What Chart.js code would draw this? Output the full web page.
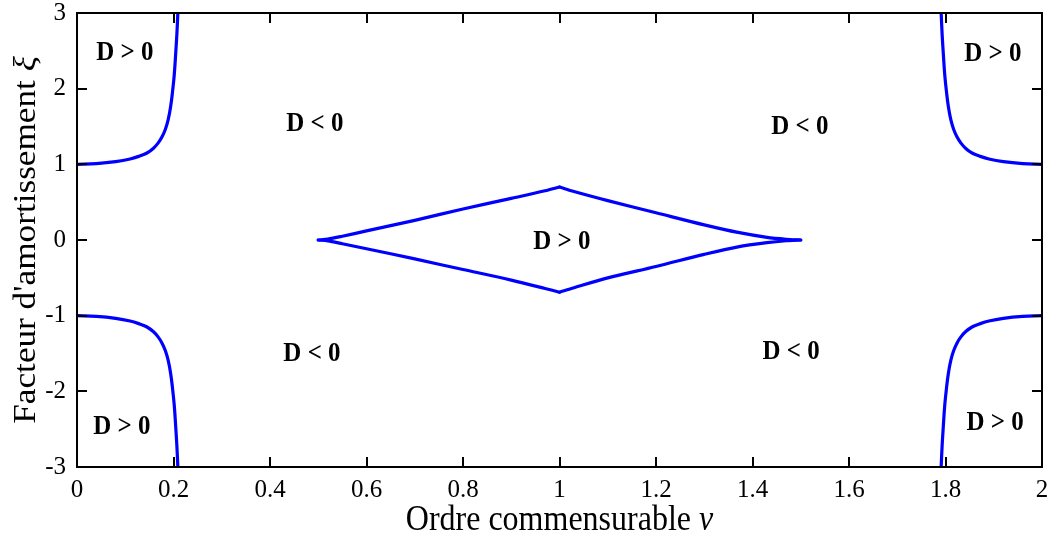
<!DOCTYPE html>
<html>
<head>
<meta charset="utf-8">
<script src="https://cdn.jsdelivr.net/npm/chart.js@4.4.1/dist/chart.umd.min.js"></script>
<style>
  html, body { margin: 0; padding: 0; background: #ffffff; }
  #wrap { width: 1048px; height: 541px; position: relative; }
</style>
</head>
<body>
<div id="wrap"><canvas id="c"></canvas></div>
<script>
// ---- data ----
const xTickValues = [0, 0.2, 0.4, 0.6, 0.8, 1, 1.2, 1.4, 1.6, 1.8, 2];
const xTickLabels = ['0', '0.2', '0.4', '0.6', '0.8', '1', '1.2', '1.4', '1.6', '1.8', '2'];
const yTickValues = [-3, -2, -1, 0, 1, 2, 3];
const yTickLabels = ['-3', '-2', '-1', '0', '1', '2', '3'];

// top-left boundary curve
const tlV  = [0, 0.04, 0.08, 0.11, 0.13, 0.145, 0.158, 0.168, 0.176, 0.183, 0.189, 0.194, 0.198, 0.2015, 0.2045, 0.207, 0.209];
const tlXi = [1, 1.01, 1.035, 1.07, 1.11, 1.15, 1.21, 1.28, 1.36, 1.46, 1.59, 1.76, 1.96, 2.18, 2.46, 2.72, 3.0];
// bottom-left boundary curve
const blV  = [0, 0.04, 0.08, 0.11, 0.13, 0.145, 0.158, 0.168, 0.176, 0.183, 0.189, 0.194, 0.198, 0.2015, 0.2045, 0.207, 0.209];
const blXi = [-1, -1.01, -1.035, -1.07, -1.11, -1.15, -1.21, -1.28, -1.36, -1.46, -1.59, -1.76, -1.96, -2.18, -2.46, -2.72, -3.0];
// top-right boundary curve
const trV  = [1.791, 1.793, 1.7955, 1.7985, 1.802, 1.806, 1.811, 1.817, 1.824, 1.832, 1.842, 1.855, 1.87, 1.89, 1.92, 1.96, 2.0];
const trXi = [3.0, 2.72, 2.46, 2.18, 1.96, 1.76, 1.59, 1.46, 1.36, 1.28, 1.21, 1.15, 1.11, 1.07, 1.035, 1.01, 1.0];
// bottom-right boundary curve
const brV  = [1.791, 1.793, 1.7955, 1.7985, 1.802, 1.806, 1.811, 1.817, 1.824, 1.832, 1.842, 1.855, 1.87, 1.89, 1.92, 1.96, 2.0];
const brXi = [-3.0, -2.72, -2.46, -2.18, -1.96, -1.76, -1.59, -1.46, -1.36, -1.28, -1.21, -1.15, -1.11, -1.07, -1.035, -1.01, -1.0];
// central closed contour, four branches
const dmUpLeftV   = [0.5, 0.52, 0.55, 0.6, 0.7, 0.8, 0.9, 0.97, 1.0];
const dmUpLeftXi  = [0, 0.012, 0.05, 0.12, 0.26, 0.41, 0.55, 0.65, 0.70];
const dmUpRightV  = [1.0, 1.03, 1.1, 1.2, 1.3, 1.37, 1.43, 1.47, 1.5];
const dmUpRightXi = [0.70, 0.64, 0.52, 0.36, 0.2, 0.1, 0.035, 0.01, 0];
const dmLoRightV  = [1.5, 1.47, 1.43, 1.37, 1.3, 1.2, 1.1, 1.03, 1.0];
const dmLoRightXi = [0, -0.01, -0.035, -0.09, -0.19, -0.35, -0.5, -0.63, -0.69];
const dmLoLeftV   = [1.0, 0.97, 0.9, 0.8, 0.7, 0.6, 0.55, 0.52, 0.5];
const dmLoLeftXi  = [-0.69, -0.64, -0.53, -0.39, -0.25, -0.115, -0.05, -0.012, 0];

// region annotations
const regionText = ['D > 0', 'D < 0', 'D < 0', 'D > 0', 'D > 0', 'D < 0', 'D < 0', 'D > 0', 'D > 0'];
const regionV    = [0.099, 0.493, 1.498, 1.898, 1.005, 0.487, 1.48, 0.093, 1.903];
const regionXi   = [2.47, 1.533, 1.493, 2.458, -0.026, -1.506, -1.48, -2.47, -2.42];

const xTitleParts = [['Ordre commensurable ', false], ['v', true]];
const yTitleParts = [["Facteur d'amortissement ", false], ['\u03BE', true]];

function pts(vs, xs) { return vs.map((v, i) => ({ x: v, y: xs[i] })); }

const SERIF = '"Liberation Serif", "Times New Roman", serif';
const BLUE = '#0000ff';

function lineDs(vs, xs, tension) {
  return {
    data: pts(vs, xs),
    showLine: true,
    borderColor: BLUE,
    borderWidth: 3.2,
    pointRadius: 0,
    fill: false,
    borderJoinStyle: 'round',
    borderCapStyle: 'round',
    tension: tension
  };
}

const framePlugin = {
  id: 'frameTicks',
  afterDraw(chart) {
    const ctx = chart.ctx;
    const a = chart.chartArea;
    const xs = chart.scales.x, ys = chart.scales.y;
    ctx.save();
    // tick marks (inward, all four sides)
    ctx.strokeStyle = '#000';
    ctx.lineWidth = 2;
    ctx.beginPath();
    xTickValues.forEach(v => {
      const px = Math.round(xs.getPixelForValue(v));
      ctx.moveTo(px, a.bottom); ctx.lineTo(px, a.bottom - 10);
      ctx.moveTo(px, a.top); ctx.lineTo(px, a.top + 10);
    });
    yTickValues.forEach(v => {
      const py = Math.round(ys.getPixelForValue(v));
      ctx.moveTo(a.left, py); ctx.lineTo(a.left + 10, py);
      ctx.moveTo(a.right, py); ctx.lineTo(a.right - 10, py);
    });
    ctx.stroke();
    // frame
    ctx.lineWidth = 2;
    ctx.strokeRect(a.left, a.top, a.right - a.left, a.bottom - a.top);

    // region labels (slightly tall, like the reference)
    ctx.fillStyle = '#000';
    ctx.font = 'bold 24px ' + SERIF;
    ctx.textAlign = 'center';
    ctx.textBaseline = 'middle';
    regionText.forEach((t, i) => {
      ctx.save();
      ctx.translate(xs.getPixelForValue(regionV[i]), ys.getPixelForValue(regionXi[i]));
      ctx.scale(1.04, 1.15);
      ctx.fillText(t, 0, 0);
      ctx.restore();
    });

    // axis titles with italic symbols
    function drawParts(parts, size) {
      const fonts = parts.map(p => (p[1] ? 'italic ' : '') + size + 'px ' + SERIF);
      let total = 0;
      const widths = parts.map((p, i) => { ctx.font = fonts[i]; const w = ctx.measureText(p[0]).width; total += w; return w; });
      let x = -total / 2;
      ctx.textAlign = 'left';
      ctx.textBaseline = 'middle';
      parts.forEach((p, i) => { ctx.font = fonts[i]; ctx.fillText(p[0], x, 0); x += widths[i]; });
    }
    ctx.save();
    ctx.translate((a.left + a.right) / 2, 521);
    ctx.scale(1.0, 1.12);
    drawParts(xTitleParts, 32);
    ctx.restore();
    ctx.save();
    ctx.translate(27, (a.top + a.bottom) / 2);
    ctx.rotate(-Math.PI / 2);
    ctx.scale(1.1, 1.0);
    drawParts(yTitleParts, 32);
    ctx.restore();
    ctx.restore();
  }
};

new Chart(document.getElementById('c'), {
  type: 'scatter',
  data: {
    datasets: [
      lineDs(tlV, tlXi, 0.4),
      lineDs(blV, blXi, 0.4),
      lineDs(trV, trXi, 0.4),
      lineDs(brV, brXi, 0.4),
      lineDs(dmUpLeftV, dmUpLeftXi, 0.3),
      lineDs(dmUpRightV, dmUpRightXi, 0.3),
      lineDs(dmLoRightV, dmLoRightXi, 0.3),
      lineDs(dmLoLeftV, dmLoLeftXi, 0.3)
    ]
  },
  options: {
    responsive: true,
    maintainAspectRatio: false,
    animation: false,
    devicePixelRatio: 1,
    layout: { padding: { left: 0, right: 6, top: 13, bottom: 0 } },
    plugins: { legend: { display: false }, tooltip: { enabled: false }, title: { display: false } },
    scales: {
      x: {
        type: 'linear', min: 0, max: 2,
        afterBuildTicks: s => { s.ticks = xTickValues.map(v => ({ value: v })); },
        afterFit: s => { s.height = 74; s.paddingLeft = 0; s.paddingRight = 0; },
        ticks: {
          autoSkip: false, maxRotation: 0, padding: 8, color: '#000',
          font: { family: SERIF, size: 25 },
          callback: (val, idx) => xTickLabels[idx]
        },
        grid: { display: false, drawTicks: false },
        border: { display: false },
        title: { display: false }
      },
      y: {
        type: 'linear', min: -3, max: 3,
        afterBuildTicks: s => { s.ticks = yTickValues.map(v => ({ value: v })); },
        afterFit: s => { s.width = 77; s.paddingTop = 0; s.paddingBottom = 0; },
        ticks: {
          autoSkip: false, padding: 11, color: '#000',
          font: { family: SERIF, size: 25 },
          callback: (val, idx) => yTickLabels[idx]
        },
        grid: { display: false, drawTicks: false },
        border: { display: false },
        title: { display: false }
      }
    }
  },
  plugins: [framePlugin]
});
</script>
</body>
</html>
